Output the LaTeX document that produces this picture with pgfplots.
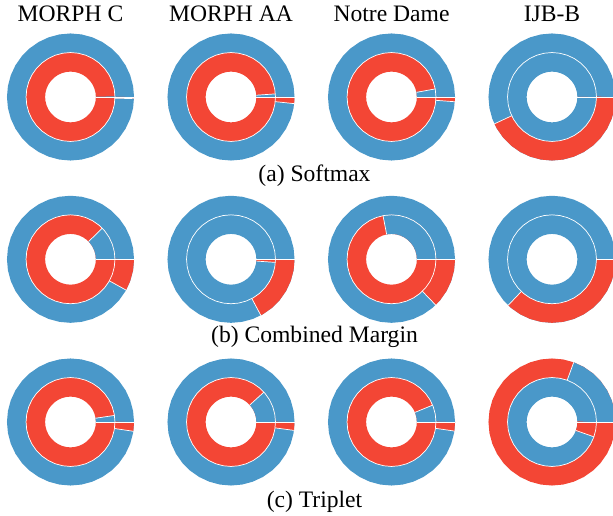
\documentclass[border=0pt]{standalone}
\usepackage{pgfplots}
\pgfplotsset{compat=1.18}
\usepackage{pgfplotstable}
\usepackage{fontspec}
\setmainfont{Liberation Serif}
\definecolor{pblue}{RGB}{74,152,201}
\definecolor{pred}{RGB}{243,70,53}
\pgfplotstableread{
a ro ri rm
0 0.85 0.55 0.7
0.2 0.85 0.55 0.7
10 0.85 0.55 0.7
20 0.85 0.55 0.7
30 0.85 0.55 0.7
40 0.85 0.55 0.7
50 0.85 0.55 0.7
60 0.85 0.55 0.7
70 0.85 0.55 0.7
80 0.85 0.55 0.7
90 0.85 0.55 0.7
100 0.85 0.55 0.7
110 0.85 0.55 0.7
120 0.85 0.55 0.7
130 0.85 0.55 0.7
140 0.85 0.55 0.7
150 0.85 0.55 0.7
160 0.85 0.55 0.7
170 0.85 0.55 0.7
180 0.85 0.55 0.7
190 0.85 0.55 0.7
200 0.85 0.55 0.7
210 0.85 0.55 0.7
220 0.85 0.55 0.7
230 0.85 0.55 0.7
240 0.85 0.55 0.7
250 0.85 0.55 0.7
260 0.85 0.55 0.7
270 0.85 0.55 0.7
280 0.85 0.55 0.7
290 0.85 0.55 0.7
300 0.85 0.55 0.7
310 0.85 0.55 0.7
320 0.85 0.55 0.7
330 0.85 0.55 0.7
340 0.85 0.55 0.7
350 0.85 0.55 0.7
359.8 0.85 0.55 0.7
360 0.85 0.55 0.7
}\ringtab
\tikzset{ring/.style={line width=19.05pt, line cap=butt, line join=miter},
  edge/.style={white, line width=0.7pt}}
\pgfplotsset{donut/.style={hide axis, x=63.5pt, y=63.5pt, xmin=-1, xmax=1,
  ymin=-1, ymax=1, clip=false, anchor=center, data cs=polar}}
\newcommand\tf{\fontsize{23.6}{28}\selectfont}
\begin{document}
\begin{tikzpicture}
\useasboundingbox (0,0) rectangle (613pt,516pt);
\clip (0,0) rectangle (613pt,516pt);
% ---------- row 1: Softmax ----------
\begin{axis}[donut, at={(70.5pt,419pt)}]
\addplot[ring, pblue] table[x=a,y=ro]{\ringtab};
\addplot[ring, pred] coordinates {(358.5,0.85)(358.7,0.85)(359.8,0.85)(360,0.85)};
\addplot[ring, pred] table[x=a,y=ri]{\ringtab};
\addplot[ring, pblue] coordinates {(0,0.55)(0.2,0.55)(0.6,0.55)(0.8,0.55)};
\addplot[edge] table[x=a,y=rm]{\ringtab};
\addplot[edge] coordinates {(0,0.4)(0,1)};
\addplot[edge] coordinates {(358.5,0.7)(358.5,1)};
\end{axis}
\begin{axis}[donut, at={(231pt,419pt)}]
\addplot[ring, pblue] table[x=a,y=ro]{\ringtab};
\addplot[ring, pred] coordinates {(354,0.85)(354.2,0.85)(359.8,0.85)(360,0.85)};
\addplot[ring, pred] table[x=a,y=ri]{\ringtab};
\addplot[ring, pblue] coordinates {(0,0.55)(0.2,0.55)(3.8,0.55)(4,0.55)};
\addplot[edge] table[x=a,y=rm]{\ringtab};
\addplot[edge] coordinates {(0,0.4)(0,1)};
\addplot[edge] coordinates {(354,0.7)(354,1)};
\addplot[edge] coordinates {(4,0.4)(4,0.7)};
\end{axis}
\begin{axis}[donut, at={(391.5pt,419pt)}]
\addplot[ring, pblue] table[x=a,y=ro]{\ringtab};
\addplot[ring, pred] coordinates {(355.7,0.85)(355.9,0.85)(359.8,0.85)(360,0.85)};
\addplot[ring, pred] table[x=a,y=ri]{\ringtab};
\addplot[ring, pblue] coordinates {(0,0.55)(0.2,0.55)(10,0.55)(10.3,0.55)(10.5,0.55)};
\addplot[edge] table[x=a,y=rm]{\ringtab};
\addplot[edge] coordinates {(0,0.4)(0,1)};
\addplot[edge] coordinates {(355.7,0.7)(355.7,1)};
\addplot[edge] coordinates {(10.5,0.4)(10.5,0.7)};
\end{axis}
\begin{axis}[donut, at={(552pt,419pt)}]
\addplot[ring, pblue] table[x=a,y=ro]{\ringtab};
\addplot[ring, pred] coordinates {(205,0.85)(205.2,0.85)(210,0.85)(220,0.85)(230,0.85)(240,0.85)(250,0.85)(260,0.85)(270,0.85)(280,0.85)(290,0.85)(300,0.85)(310,0.85)(320,0.85)(330,0.85)(340,0.85)(350,0.85)(359.8,0.85)(360,0.85)};
\addplot[ring, pblue] table[x=a,y=ri]{\ringtab};
\addplot[ring, pred] coordinates {(359.3,0.55)(359.5,0.55)(359.8,0.55)(360,0.55)};
\addplot[edge] table[x=a,y=rm]{\ringtab};
\addplot[edge] coordinates {(0,0.4)(0,1)};
\addplot[edge] coordinates {(205,0.7)(205,1)};
\end{axis}
% ---------- row 2: Combined Margin ----------
\begin{axis}[donut, at={(70.5pt,256.7pt)}]
\addplot[ring, pblue] table[x=a,y=ro]{\ringtab};
\addplot[ring, pred] coordinates {(331,0.85)(331.2,0.85)(340,0.85)(350,0.85)(359.8,0.85)(360,0.85)};
\addplot[ring, pred] table[x=a,y=ri]{\ringtab};
\addplot[ring, pblue] coordinates {(0,0.55)(0.2,0.55)(10,0.55)(20,0.55)(30,0.55)(40,0.55)(44.2,0.55)(44.4,0.55)};
\addplot[edge] table[x=a,y=rm]{\ringtab};
\addplot[edge] coordinates {(0,0.4)(0,1)};
\addplot[edge] coordinates {(331,0.7)(331,1)};
\addplot[edge] coordinates {(44.4,0.4)(44.4,0.7)};
\end{axis}
\begin{axis}[donut, at={(231pt,256.7pt)}]
\addplot[ring, pblue] table[x=a,y=ro]{\ringtab};
\addplot[ring, pred] coordinates {(298,0.85)(298.2,0.85)(300,0.85)(310,0.85)(320,0.85)(330,0.85)(340,0.85)(350,0.85)(359.8,0.85)(360,0.85)};
\addplot[ring, pblue] table[x=a,y=ri]{\ringtab};
\addplot[ring, pred] coordinates {(356,0.55)(356.2,0.55)(359.8,0.55)(360,0.55)};
\addplot[edge] table[x=a,y=rm]{\ringtab};
\addplot[edge] coordinates {(0,0.4)(0,1)};
\addplot[edge] coordinates {(298,0.7)(298,1)};
\addplot[edge] coordinates {(356,0.4)(356,0.7)};
\end{axis}
\begin{axis}[donut, at={(391.5pt,256.7pt)}]
\addplot[ring, pblue] table[x=a,y=ro]{\ringtab};
\addplot[ring, pred] coordinates {(314,0.85)(314.2,0.85)(320,0.85)(330,0.85)(340,0.85)(350,0.85)(359.8,0.85)(360,0.85)};
\addplot[ring, pred] table[x=a,y=ri]{\ringtab};
\addplot[ring, pblue] coordinates {(0,0.55)(0.2,0.55)(10,0.55)(20,0.55)(30,0.55)(40,0.55)(50,0.55)(60,0.55)(70,0.55)(80,0.55)(90,0.55)(100,0.55)(100.8,0.55)(101,0.55)};
\addplot[edge] table[x=a,y=rm]{\ringtab};
\addplot[edge] coordinates {(0,0.4)(0,1)};
\addplot[edge] coordinates {(314,0.7)(314,1)};
\addplot[edge] coordinates {(101,0.4)(101,0.7)};
\end{axis}
\begin{axis}[donut, at={(552pt,256.7pt)}]
\addplot[ring, pblue] table[x=a,y=ro]{\ringtab};
\addplot[ring, pred] coordinates {(226.4,0.85)(226.6,0.85)(230,0.85)(240,0.85)(250,0.85)(260,0.85)(270,0.85)(280,0.85)(290,0.85)(300,0.85)(310,0.85)(320,0.85)(330,0.85)(340,0.85)(350,0.85)(359.8,0.85)(360,0.85)};
\addplot[ring, pblue] table[x=a,y=ri]{\ringtab};
\addplot[edge] table[x=a,y=rm]{\ringtab};
\addplot[edge] coordinates {(0,0.7)(0,1)};
\addplot[edge] coordinates {(226.4,0.7)(226.4,1)};
\end{axis}
% ---------- row 3: Triplet ----------
\begin{axis}[donut, at={(70.5pt,94pt)}]
\addplot[ring, pblue] table[x=a,y=ro]{\ringtab};
\addplot[ring, pred] coordinates {(351.6,0.85)(351.8,0.85)(359.8,0.85)(360,0.85)};
\addplot[ring, pred] table[x=a,y=ri]{\ringtab};
\addplot[ring, pblue] coordinates {(0,0.55)(0.2,0.55)(8.3,0.55)(8.5,0.55)};
\addplot[edge] table[x=a,y=rm]{\ringtab};
\addplot[edge] coordinates {(0,0.4)(0,1)};
\addplot[edge] coordinates {(351.6,0.7)(351.6,1)};
\addplot[edge] coordinates {(8.5,0.4)(8.5,0.7)};
\end{axis}
\begin{axis}[donut, at={(231pt,94pt)}]
\addplot[ring, pblue] table[x=a,y=ro]{\ringtab};
\addplot[ring, pred] coordinates {(352.4,0.85)(352.6,0.85)(359.8,0.85)(360,0.85)};
\addplot[ring, pred] table[x=a,y=ri]{\ringtab};
\addplot[ring, pblue] coordinates {(0,0.55)(0.2,0.55)(10,0.55)(20,0.55)(30,0.55)(40,0.55)(42,0.55)(42.2,0.55)};
\addplot[edge] table[x=a,y=rm]{\ringtab};
\addplot[edge] coordinates {(0,0.4)(0,1)};
\addplot[edge] coordinates {(352.4,0.7)(352.4,1)};
\addplot[edge] coordinates {(42.2,0.4)(42.2,0.7)};
\end{axis}
\begin{axis}[donut, at={(391.5pt,94pt)}]
\addplot[ring, pblue] table[x=a,y=ro]{\ringtab};
\addplot[ring, pred] coordinates {(351.8,0.85)(352,0.85)(359.8,0.85)(360,0.85)};
\addplot[ring, pred] table[x=a,y=ri]{\ringtab};
\addplot[ring, pblue] coordinates {(0,0.55)(0.2,0.55)(10,0.55)(20,0.55)(22.1,0.55)(22.3,0.55)};
\addplot[edge] table[x=a,y=rm]{\ringtab};
\addplot[edge] coordinates {(0,0.4)(0,1)};
\addplot[edge] coordinates {(351.8,0.7)(351.8,1)};
\addplot[edge] coordinates {(22.3,0.4)(22.3,0.7)};
\end{axis}
\begin{axis}[donut, at={(552pt,94pt)}]
\addplot[ring, pred] table[x=a,y=ro]{\ringtab};
\addplot[ring, pblue] coordinates {(0,0.85)(0.2,0.85)(10,0.85)(20,0.85)(30,0.85)(40,0.85)(50,0.85)(60,0.85)(69.8,0.85)(70,0.85)};
\addplot[ring, pblue] table[x=a,y=ri]{\ringtab};
\addplot[ring, pred] coordinates {(340.5,0.55)(340.7,0.55)(350,0.55)(359.8,0.55)(360,0.55)};
\addplot[edge] table[x=a,y=rm]{\ringtab};
\addplot[edge] coordinates {(0,0.4)(0,1)};
\addplot[edge] coordinates {(70,0.7)(70,1)};
\addplot[edge] coordinates {(340.5,0.4)(340.5,0.7)};
\end{axis}
% ---------- texts ----------
\node[anchor=base, inner sep=0pt] at (70.5pt,494.5pt) {\tf MORPH C};
\node[anchor=base, inner sep=0pt] at (231pt,494.5pt) {\tf MORPH AA};
\node[anchor=base, inner sep=0pt] at (391.5pt,494.5pt) {\tf Notre Dame};
\node[anchor=base, inner sep=0pt] at (552pt,494.5pt) {\tf IJB-B};
\node[anchor=base, inner sep=0pt] at (314.5pt,334.5pt) {\tf (a) Softmax};
\node[anchor=base, inner sep=0pt] at (314.5pt,173pt) {\tf (b) Combined Margin};
\node[anchor=base, inner sep=0pt] at (314.5pt,8.7pt) {\tf (c) Triplet};
\end{tikzpicture}
\end{document}
